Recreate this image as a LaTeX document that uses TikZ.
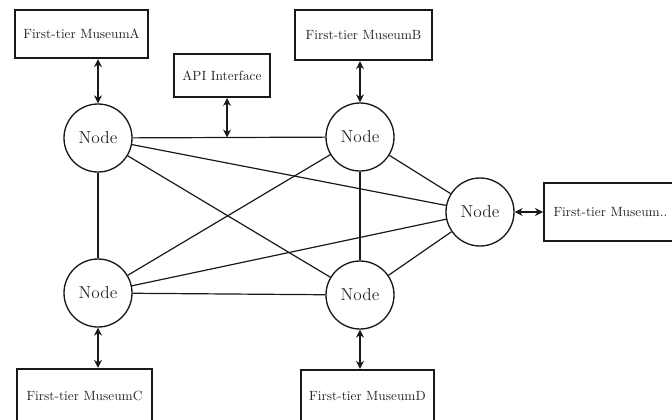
\documentclass[tikz,border=0pt]{standalone}
\usetikzlibrary{arrows.meta}
\begin{document}
\begin{tikzpicture}[x=0.75pt,y=-0.75pt]
  % Define colors
  \colorlet{linecolor}{black!90}
  \colorlet{textcolor}{black!85}

  % Styles
  \tikzset{
    museum/.style={draw=linecolor, line width=1.7pt, fill=white, text=textcolor, inner sep=0pt, font=\normalsize},
    peer/.style={circle, draw=linecolor, line width=1pt, fill=white, text=textcolor, minimum size=51pt, inner sep=0pt, font=\fontsize{13}{15}\selectfont},
    link/.style={draw=linecolor, line width=0.9pt},
    access/.style={{Stealth[length=6pt,width=6pt]}-{Stealth[length=6pt,width=6pt]}, draw=linecolor, line width=1.3pt},
  }

  % Frame of the picture
  \useasboundingbox (0,0) rectangle (672,419);
  \clip (0,0) rectangle (672,419);

  % Node ring
  \node[peer] (peerA) at (98,138) {Node};
  \node[peer] (peerB) at (360,137) {Node};
  \node[peer] (peerC) at (98,293) {Node};
  \node[peer] (peerD) at (360,295) {Node};
  \node[peer] (peerE) at (480,212) {Node};

  % Full mesh between the nodes
  \draw[link] (peerA) -- (peerB);
  \draw[link] (peerA) -- (peerC);
  \draw[link] (peerA) -- (peerD);
  \draw[link] (peerA) -- (peerE);
  \draw[link] (peerB) -- (peerC);
  \draw[link] (peerB) -- (peerD);
  \draw[link] (peerB) -- (peerE);
  \draw[link] (peerC) -- (peerD);
  \draw[link] (peerC) -- (peerE);
  \draw[link] (peerD) -- (peerE);

  % First-tier museums
  \node[museum, minimum width=100pt, minimum height=36pt] (museumA) at (81.5,34) {First-tier MuseumA};
  \node[museum, minimum width=103pt, minimum height=37.5pt] (museumB) at (363.5,35) {First-tier MuseumB};
  \node[museum, minimum width=101pt, minimum height=40.5pt] (museumC) at (84.5,396) {First-tier MuseumC};
  \node[museum, minimum width=100pt, minimum height=39pt] (museumD) at (367.5,396) {First-tier MuseumD};
  \node[museum, minimum width=100pt, minimum height=43.5pt, text width=90pt, align=left, inner xsep=7pt] (museumE) at (613.5,212) {First-tier Museum..};

  % API interface on the top link
  \node[museum, minimum width=72pt, minimum height=32pt] (api) at (222,75.5) {API Interface};
  \path (peerA) -- (peerB) coordinate[pos=0.49] (apiend);

  % Access arrows
  \draw[access] (museumA.south -| peerA) -- (peerA);
  \draw[access] (museumB.south -| peerB) -- (peerB);
  \draw[access] (museumC.north -| peerC) -- (peerC);
  \draw[access] (museumD.north -| peerD) -- (peerD);
  \draw[access] (peerE) -- (museumE);
  \draw[access] (api.south -| apiend) -- (apiend);
\end{tikzpicture}
\end{document}
